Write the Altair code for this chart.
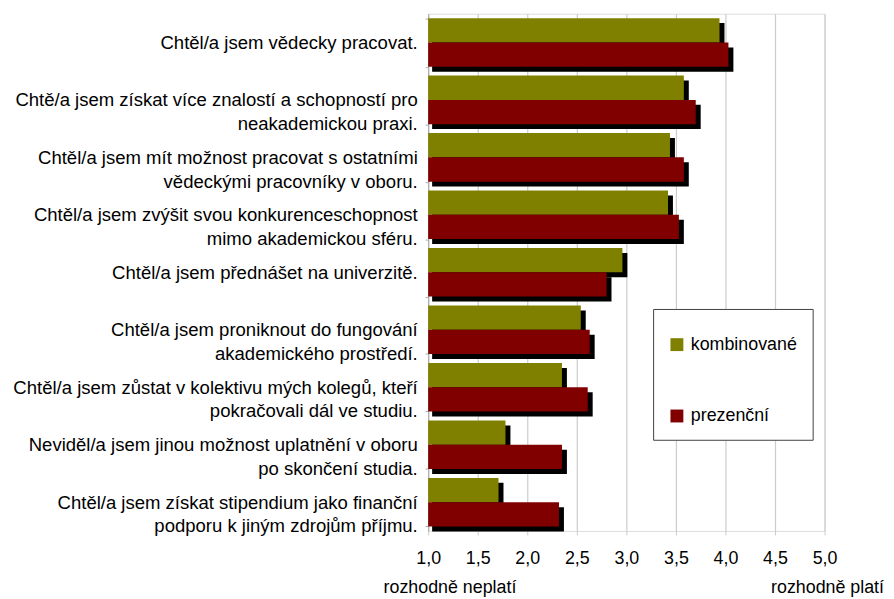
import altair as alt
import pandas as pd

categories = [
    "Chtěl/a jsem vědecky pracovat.",
    "Chtě/a jsem získat více znalostí a schopností pro|neakademickou praxi.",
    "Chtěl/a jsem mít možnost pracovat s ostatními|vědeckými pracovníky v oboru.",
    "Chtěl/a jsem zvýšit svou konkurenceschopnost|mimo akademickou sféru.",
    "Chtěl/a jsem přednášet na univerzitě.",
    "Chtěl/a jsem proniknout do fungování|akademického prostředí.",
    "Chtěl/a jsem zůstat v kolektivu mých kolegů, kteří|pokračovali dál ve studiu.",
    "Neviděl/a jsem jinou možnost uplatnění v oboru|po skončení studia.",
    "Chtěl/a jsem získat stipendium jako finanční|podporu k jiným zdrojům příjmu.",
]
series_names = ["kombinované", "prezenční"]
kombinovane = [3.94, 3.58, 3.44, 3.42, 2.96, 2.54, 2.35, 1.78, 1.71]
prezencni = [4.03, 3.70, 3.58, 3.53, 2.80, 2.63, 2.61, 2.35, 2.32]
colors = ["#808000", "#800000"]
x_ticks = [1.0, 1.5, 2.0, 2.5, 3.0, 3.5, 4.0, 4.5, 5.0]
end_labels = ["rozhodně neplatí", "rozhodně platí"]
end_values = [1.0, 5.0]

rows = []
for i, c in enumerate(categories):
    rows.append({"cat": c, "series": series_names[0], "value": kombinovane[i]})
    rows.append({"cat": c, "series": series_names[1], "value": prezencni[i]})
df = pd.DataFrame(rows)
left_df = pd.DataFrame({"value": [end_values[0]], "label": [end_labels[0]]})
right_df = pd.DataFrame({"value": [end_values[1]], "label": [end_labels[1]]})

W, H = 400, 522
FONT = "Liberation Sans"

x_scale = alt.Scale(domain=[1, 5], zero=False, nice=False)
x_enc = alt.X(
    "value:Q",
    scale=x_scale,
    axis=alt.Axis(
        title=None, values=x_ticks,
        labelExpr="replace(format(datum.value, '.1f'), '.', ',')",
        labelFlush=False,
        grid=True, gridColor="#cccccc", gridWidth=1.2, domain=False,
        tickSize=4, tickColor="#cccccc", labelPadding=15,
        labelFontSize=18, labelFont=FONT, labelColor="black",
    ),
)
y_enc = alt.Y(
    "cat:N",
    sort=categories,
    scale=alt.Scale(paddingInner=0.155, paddingOuter=0.078),
    axis=alt.Axis(
        title=None, labelExpr="split(datum.label, '|')",
        labelFontSize=18.7, labelLineHeight=24, labelLimit=600,
        labelPadding=8, tickSize=3, tickBand="extent",
        tickColor="#a8a8a8", domainColor="#a8a8a8",
        labelColor="black", labelFont=FONT,
        labelAlign="right", labelBaseline="middle",
    ),
)

shadow = alt.Chart(df).mark_bar(color="black", xOffset=5, x2Offset=4).encode(
    x=x_enc,
    x2=alt.datum(1),
    y=y_enc,
    yOffset=alt.YOffset("series:N", sort=series_names,
                        scale=alt.Scale(range=[5, 54], paddingInner=0, paddingOuter=0)),
)

bars = alt.Chart(df).mark_bar().encode(
    x=x_enc,
    x2=alt.datum(1),
    y=y_enc,
    yOffset=alt.YOffset("series:N", sort=series_names,
                        scale=alt.Scale(paddingInner=0, paddingOuter=0)),
    color=alt.Color(
        "series:N", sort=series_names,
        scale=alt.Scale(domain=series_names, range=colors),
        legend=alt.Legend(
            title=" ", titleFontSize=6, titlePadding=6,
            orient="none", legendX=227, legendY=298, padding=15,
            strokeColor="#404040", fillColor="white",
            symbolType="square", symbolSize=169, symbolStrokeWidth=0,
            labelFontSize=18, labelFont=FONT, labelColor="black",
            labelOffset=5, rowPadding=54, direction="vertical",
        ),
    ),
)

left_text = alt.Chart(left_df).mark_text(
    fontSize=18, font=FONT, color="black", baseline="alphabetic", align="left", dx=-45
).encode(
    x=x_enc,
    y=alt.value(H + 63),
    text="label:N",
)

right_text = alt.Chart(right_df).mark_text(
    fontSize=18, font=FONT, color="black", baseline="alphabetic", align="center", dx=3
).encode(
    x=x_enc,
    y=alt.value(H + 63),
    text="label:N",
)

chart = (
    alt.layer(shadow, bars, left_text, right_text)
    .resolve_scale(yOffset="independent")
    .properties(
        width=W, height=H,
        autosize=alt.AutoSizeParams(type="none"),
        padding={"left": 424, "top": 3, "right": 62, "bottom": 70},
    )
    .configure_view(stroke=None)
    .configure(font=FONT)
)

chart.save("out.html", embed_options={"renderer": "svg", "actions": False})
